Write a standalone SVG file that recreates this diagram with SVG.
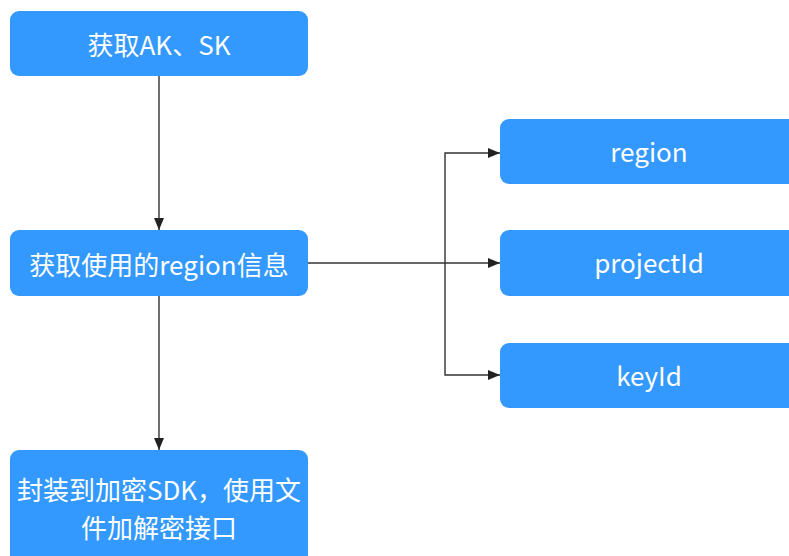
<svg xmlns="http://www.w3.org/2000/svg" width="789" height="556" viewBox="0 0 789 556">
<defs>
<marker id="arr" markerWidth="12" markerHeight="10" refX="12" refY="5" orient="auto" markerUnits="userSpaceOnUse">
<path d="M0,0 L12,5 L0,10 Z" fill="#222"/>
</marker>
<style>
.box{fill:#3399ff;}
.t{fill:#ffffff;font-family:"Noto Sans CJK SC","Noto Sans",sans-serif;font-size:26px;text-anchor:middle;}
.c{fill:none;stroke:#333;stroke-width:1.4;}
</style>
</defs>
<rect width="789" height="556" fill="#ffffff"/>
<g id="connectors">
<path class="c" d="M159,76 V230" marker-end="url(#arr)"/>
<path class="c" d="M159,296 V450" marker-end="url(#arr)"/>
<path class="c" d="M308,263 H500" marker-end="url(#arr)"/>
<path class="c" d="M445,263 V153 H500" marker-end="url(#arr)"/>
<path class="c" d="M445,263 V375 H500" marker-end="url(#arr)"/>
</g>
<g id="n1">
<rect class="box" x="10" y="11" width="298" height="65" rx="9"/>
<text class="t" x="159" y="55">获取AK、SK</text>
</g>
<g id="n2">
<rect class="box" x="10" y="230" width="298" height="66" rx="9"/>
<text class="t" x="159" y="275">获取使用的region信息</text>
</g>
<g id="n3">
<rect class="box" x="10" y="450" width="298" height="120" rx="9"/>
<text class="t" x="159" y="500">封装到加密SDK，使用文</text>
<text class="t" x="159" y="538">件加解密接口</text>
</g>
<g id="n4">
<rect class="box" x="500" y="119" width="298" height="65" rx="9"/>
<text class="t" x="649" y="162">region</text>
</g>
<g id="n5">
<rect class="box" x="500" y="230" width="298" height="66" rx="9"/>
<text class="t" x="649" y="273">projectId</text>
</g>
<g id="n6">
<rect class="box" x="500" y="343" width="298" height="65" rx="9"/>
<text class="t" x="649" y="386">keyId</text>
</g>
</svg>
